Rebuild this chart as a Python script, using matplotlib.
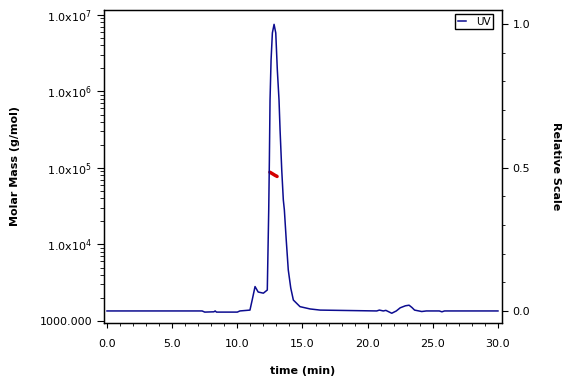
import math
import matplotlib
matplotlib.use("Agg")
import matplotlib.pyplot as plt
from matplotlib.ticker import LogLocator, MultipleLocator, FuncFormatter, NullFormatter

plt.rcParams['font.family'] = ['DejaVu Sans']

# UV trace (relative scale)
uv_time = [0.0, 7.3, 7.5, 8.2, 8.3, 8.4, 10.0, 10.2, 10.97, 11.15, 11.36, 11.6,
           12.0, 12.3, 12.41, 12.46, 12.51, 12.59, 12.69, 12.82, 12.95, 13.07,
           13.2, 13.28, 13.41, 13.53, 13.61, 13.75, 13.91, 14.1, 14.3, 14.81,
           15.58, 16.35, 20.7, 20.9, 21.2, 21.4, 21.85, 22.2, 22.5, 22.9, 23.18,
           23.4, 23.6, 24.15, 24.5, 25.5, 25.7, 25.9, 30.0]
uv_rel = [0.0, 0.0, -0.004, -0.003, 0.0, -0.004, -0.004, 0.0, 0.003, 0.04, 0.085, 0.066,
          0.062, 0.073, 0.352, 0.526, 0.735, 0.875, 0.969, 0.999, 0.969, 0.84,
          0.735, 0.631, 0.49, 0.387, 0.352, 0.25, 0.143, 0.08, 0.038, 0.015,
          0.007, 0.003, 0.0, 0.003, 0.0, 0.002, -0.008, 0.0, 0.011, 0.018, 0.02,
          0.012, 0.003, -0.002, 0.0, 0.0, -0.003, 0.0, 0.0]

# molar mass points across the peak
mm_time = [12.5, 12.6, 12.7, 12.8, 12.9, 13.0, 13.05]
mm_value = [88000, 86000, 84000, 82000, 80000, 78500, 77500]

fig = plt.figure(figsize=(5.76, 3.84), dpi=100)
ax = fig.add_axes([104/576, 61/384, 398/576, 313/384])
ax2 = ax.twinx()

ax2.plot(uv_time, uv_rel, color='#0c0c90', lw=1.1, label='UV')
ax.plot(mm_time, mm_value, color='#d40000', lw=2.5, solid_capstyle='round')

ax.set_yscale('log')
ax.set_ylim(941, 10**7.065)
ax.set_xlim(-0.23, 30.31)
ax2.set_ylim(-0.042, 1.049)

def mm_fmt(v, pos):
    if abs(v - 1000) < 1:
        return '1000.000'
    e = int(round(math.log10(v)))
    return r'$\mathregular{1.0x10^{%d}}$' % e

ax.yaxis.set_major_locator(LogLocator(base=10))
ax.yaxis.set_minor_locator(LogLocator(base=10, subs=range(2, 10)))
ax.yaxis.set_major_formatter(FuncFormatter(mm_fmt))
ax.yaxis.set_minor_formatter(NullFormatter())

ax.xaxis.set_major_locator(MultipleLocator(5))
ax.xaxis.set_minor_locator(MultipleLocator(1))
ax.xaxis.set_major_formatter(FuncFormatter(lambda v, p: '%.1f' % v))

ax2.yaxis.set_major_locator(MultipleLocator(0.5))
ax2.yaxis.set_minor_locator(MultipleLocator(0.1))
ax2.yaxis.set_major_formatter(FuncFormatter(lambda v, p: '%.1f' % v))

ax.tick_params(axis='y', which='major', length=5, width=0.8, labelsize=8, direction='out')
ax.tick_params(axis='y', which='minor', length=3, width=0.6, direction='out')
ax.tick_params(axis='x', which='major', length=3.6, width=0.8, labelsize=8, direction='out', pad=8)
ax.tick_params(axis='x', which='minor', length=2, width=0.6, direction='out')
ax2.tick_params(axis='y', which='major', length=4, width=0.8, labelsize=8, direction='out')
ax2.tick_params(axis='y', which='minor', length=2, width=0.6, direction='out')

for a in (ax, ax2):
    for s in a.spines.values():
        s.set_color('black')
        s.set_linewidth(0.9)

ax.set_xlabel('time (min)', fontsize=8, fontweight='bold', labelpad=12)
ax.set_ylabel('Molar Mass (g/mol)', fontsize=8, fontweight='bold', labelpad=14)
ax2.set_ylabel('Relative Scale', fontsize=8, fontweight='bold', rotation=270, labelpad=22)

ax2.legend(loc='upper right', bbox_to_anchor=(493/576, 1 - 14/384),
           bbox_transform=fig.transFigure, borderaxespad=0, fontsize=7.5,
           handlelength=0.8, handletextpad=0.9, borderpad=0.25,
           fancybox=False, framealpha=1, edgecolor='black')

fig.savefig('out.png', dpi=100)
